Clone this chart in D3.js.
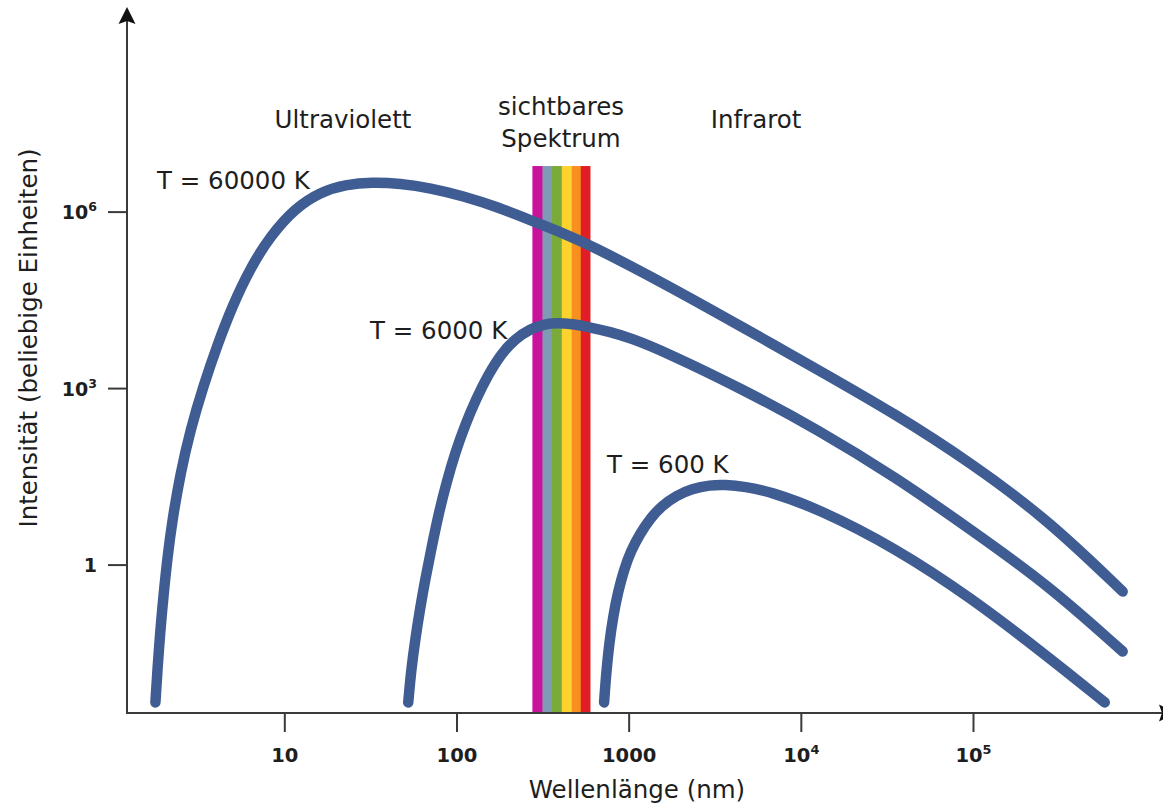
<!DOCTYPE html>
<html>
<head>
<meta charset="utf-8">
<script src="https://cdn.jsdelivr.net/npm/d3@7"></script>
<style>
  html, body { margin: 0; background: #fff; }
  svg { display: block; font-family: "DejaVu Sans", sans-serif; }
</style>
</head>
<body>
<svg id="chart" width="1163" height="805"></svg>
<script>
/* Planck curves (log-log) */

// T = 60000 K
var LAMBDA_60000 = [1.784, 1.833, 1.907, 1.985, 2.094, 2.239, 2.491, 2.848, 3.388, 4.085, 4.992, 6.348, 8.295, 11.58, 16.18, 22.6, 32.4, 47.1, 70.4, 109.4, 172.3, 267.7, 399.9, 597, 1627, 4551, 12570, 35170, 97100, 271800, 740300];
var INT_60000    = [0.00454, 0.0165, 0.0788, 0.286, 1.315, 5.81, 35.1, 196, 1094, 5433, 24950, 110300, 385500, 1.151e6, 2.15e6, 2.88e6, 3.18e6, 3.0e6, 2.52e6, 1.84e6, 1.2e6, 7.2e5, 4.51e5, 2.71e5, 5.9e4, 1.099e4, 2046, 366, 53.9, 5.81, 0.348];

// T = 6000 K
var LAMBDA_6000 = [52.45, 54.6, 57.6, 61.6, 65.8, 71.3, 78.3, 87.1, 98.3, 112.3, 130.1, 152.8, 181.7, 219.1, 267.7, 327.2, 384.1, 469.4, 597, 780, 1019, 1627, 4551, 12570, 35170, 97100, 271800, 740300];
var INT_6000    = [0.00454, 0.0165, 0.0533, 0.186, 0.556, 1.80, 6.79, 23.7, 79.7, 238, 658, 1682, 3822, 6871, 10160, 12350, 12840, 12350, 10770, 9036, 7145, 4133, 973, 196, 31.2, 3.93, 0.457, 0.0333];

// T = 600 K
var LAMBDA_600 = [720, 739.5, 769.6, 812, 868, 940, 1032, 1165, 1331, 1563, 1884, 2333, 2968, 3627, 4737, 6617, 12570, 35170, 97100, 271800, 582100];
var INT_600    = [0.00454, 0.01356, 0.0438, 0.131, 0.348, 0.822, 1.73, 3.36, 6.04, 10.04, 14.8, 19.5, 22.4, 22.8, 21.1, 17.4, 8.93, 1.94, 0.275, 0.0274, 0.00454];

var CURVE_LABELS = ['T = 60000 K', 'T = 6000 K', 'T = 600 K'];

// visible band: stripe edges (nm) and colours, top of the band
var BAND_EDGES  = [276, 316, 358, 409, 467, 527, 597];
var BAND_COLORS = ['#c9139c', '#7f9ab5', '#7aaa3a', '#fcd22e', '#f7901e', '#e11d26'];
var BAND_TOP    = 5.95e6;

var X_TICKS = [10, 100, 1000, 1e4, 1e5];
var Y_TICKS = [1, 1e3, 1e6];

var REGION_LABELS = ['Ultraviolett', 'sichtbares', 'Spektrum', 'Infrarot'];
var X_TITLE = 'Wellenlänge (nm)';
var Y_TITLE = 'Intensität (beliebige Einheiten)';

(function () {
  'use strict';

  var LINE_COLOR = '#3f5d93';
  var AXIS_COLOR = '#3a3a3a';
  var TEXT_COLOR = '#1e1e1e';
  var FONT = '"DejaVu Sans", sans-serif';

  var svg = d3.select('#chart');

  var x = d3.scaleLog().domain([1.22, 1e5]).range([127, 973]);
  var y = d3.scaleLog().domain([0.003, 1e6]).range([713, 211.6]);

  var x0 = x.range()[0], y0 = y.range()[0];

  // visible spectrum band
  svg.append('g').selectAll('rect')
    .data(BAND_COLORS).enter()
    .append('rect')
    .attr('x', function (d, i) { return x(BAND_EDGES[i]); })
    .attr('width', function (d, i) { return x(BAND_EDGES[i + 1]) - x(BAND_EDGES[i]) + 0.4; })
    .attr('y', y(BAND_TOP))
    .attr('height', y0 - y(BAND_TOP))
    .attr('fill', function (d) { return d; });

  // curves
  var series = [
    { lam: LAMBDA_60000, val: INT_60000 },
    { lam: LAMBDA_6000,  val: INT_6000 },
    { lam: LAMBDA_600,   val: INT_600 }
  ];
  // B-spline smooths out small reading errors between the points
  var line = d3.line()
    .x(function (d) { return x(d[0]); })
    .y(function (d) { return y(d[1]); })
    .curve(d3.curveBasis);

  svg.append('g').selectAll('path')
    .data(series).enter()
    .append('path')
    .attr('d', function (s) { return line(d3.zip(s.lam, s.val)); })
    .attr('fill', 'none')
    .attr('stroke', LINE_COLOR)
    .attr('stroke-width', 10.5)
    .attr('stroke-linecap', 'round')
    .attr('stroke-linejoin', 'round');

  // axes lines with arrow heads
  svg.append('line')
    .attr('x1', x0).attr('y1', y0).attr('x2', 1165).attr('y2', y0)
    .attr('stroke', AXIS_COLOR).attr('stroke-width', 2);
  svg.append('line')
    .attr('x1', x0).attr('y1', y0 + 1).attr('x2', x0).attr('y2', 18)
    .attr('stroke', AXIS_COLOR).attr('stroke-width', 2);
  svg.append('path')
    .attr('d', 'M' + x0 + ',7 L' + (x0 - 8.5) + ',24 L' + x0 + ',21 L' + (x0 + 8.5) + ',24 Z')
    .attr('fill', '#111');
  svg.append('path')
    .attr('d', 'M1176,' + y0 + ' L1159,' + (y0 - 8.5) + ' L1162,' + y0 + ' L1159,' + (y0 + 8.5) + ' Z')
    .attr('fill', '#111');

  // "10" with a raised exponent for the large powers
  function powLabel(t, d, minExp) {
    var e = Math.round(Math.log10(d));
    t.text(null);
    if (e >= minExp) {
      t.append('tspan').text('10');
      t.append('tspan').attr('dy', -8).attr('font-size', '0.66em').text(String(e));
    } else {
      t.text(String(d));
    }
  }

  // x axis ticks
  var gx = svg.append('g')
    .attr('transform', 'translate(0,' + y0 + ')')
    .call(d3.axisBottom(x).tickValues(X_TICKS).tickSize(19).tickSizeOuter(0));
  gx.select('.domain').remove();
  gx.selectAll('.tick line').attr('stroke', AXIS_COLOR).attr('stroke-width', 2);
  gx.selectAll('.tick text')
    .attr('y', 49).attr('dy', null)
    .attr('fill', TEXT_COLOR)
    .attr('font-size', 19.5)
    .attr('font-weight', 'bold')
    .attr('font-family', FONT)
    .each(function (d) { powLabel(d3.select(this), d, 4); });

  // y axis ticks
  var gy = svg.append('g')
    .attr('transform', 'translate(' + x0 + ',0)')
    .call(d3.axisLeft(y).tickValues(Y_TICKS).tickSize(19).tickPadding(11).tickSizeOuter(0));
  gy.select('.domain').remove();
  gy.selectAll('.tick line').attr('stroke', AXIS_COLOR).attr('stroke-width', 2);
  gy.selectAll('.tick text')
    .attr('dy', 7)
    .attr('fill', TEXT_COLOR)
    .attr('font-size', 19)
    .attr('font-weight', 'bold')
    .attr('font-family', FONT)
    .each(function (d) { powLabel(d3.select(this), d, 3); });

  // region labels
  var lab = svg.append('g')
    .attr('fill', TEXT_COLOR)
    .attr('font-size', 24.5)
    .attr('text-anchor', 'middle');
  lab.append('text').attr('x', 343).attr('y', 128).text(REGION_LABELS[0]);
  lab.append('text').attr('x', 561).attr('y', 115).text(REGION_LABELS[1]);
  lab.append('text').attr('x', 561).attr('y', 147).text(REGION_LABELS[2]);
  lab.append('text').attr('x', 756).attr('y', 128).text(REGION_LABELS[3]);

  // curve labels
  var tl = svg.append('g')
    .attr('fill', TEXT_COLOR)
    .attr('font-size', 24.5);
  tl.append('text').attr('x', 157).attr('y', 189).text(CURVE_LABELS[0]);
  tl.append('text').attr('x', 370).attr('y', 339).text(CURVE_LABELS[1]);
  tl.append('text').attr('x', 607).attr('y', 473).text(CURVE_LABELS[2]);

  // axis titles
  svg.append('text')
    .attr('x', 637).attr('y', 798)
    .attr('text-anchor', 'middle')
    .attr('fill', TEXT_COLOR)
    .attr('font-size', 24.5)
    .text(X_TITLE);

  svg.append('text')
    .attr('transform', 'translate(37,338) rotate(-90)')
    .attr('text-anchor', 'middle')
    .attr('fill', TEXT_COLOR)
    .attr('font-size', 24.5)
    .text(Y_TITLE);
})();
</script>
</body>
</html>
